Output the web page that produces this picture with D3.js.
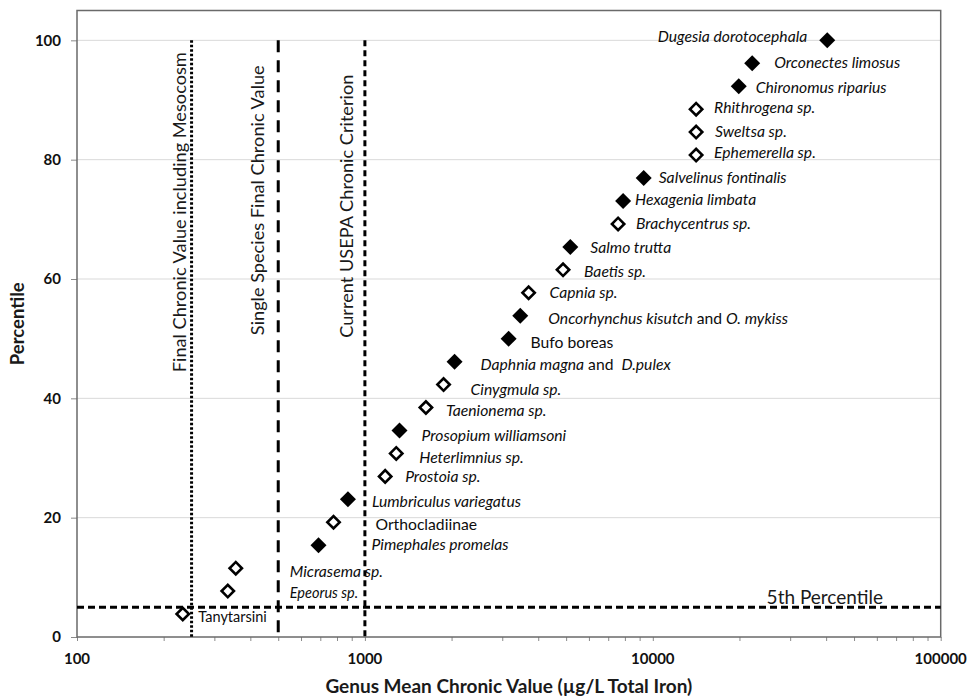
<!DOCTYPE html>
<html><head><meta charset="utf-8">
<script src="https://cdn.jsdelivr.net/npm/d3@7"></script>
<style>
body{margin:0;background:#fff}
text{font-family:Lato,"Open Sans",sans-serif;fill:#111}
</style>
</head><body>
<svg id="chart" width="967" height="697"></svg>
<script>
// ---------- DATA ----------
const species = [
  "Tanytarsini","Epeorus sp.","Micrasema sp.","Pimephales promelas","Orthocladiinae",
  "Lumbriculus variegatus","Prostoia sp.","Heterlimnius sp.","Prosopium williamsoni","Taenionema sp.",
  "Cinygmula sp.","Daphnia magna and  D.pulex","Bufo boreas","Oncorhynchus kisutch and O. mykiss","Capnia sp.",
  "Baetis sp.","Salmo trutta","Brachycentrus sp.","Hexagenia limbata","Salvelinus fontinalis",
  "Ephemerella sp.","Sweltsa sp.","Rhithrogena sp.","Chironomus riparius","Orconectes limosus",
  "Dugesia dorotocephala"
];
const genusMeanChronicValue = [
  233, 334, 356, 690, 778,
  873, 1176, 1285, 1319, 1629,
  1876, 2049, 3156, 3465, 3704,
  4878, 5171, 7576, 7886, 9298,
  14140, 14140, 14140, 19890, 22140,
  40350
];
const percentile = [
  3.85, 7.69, 11.54, 15.38, 19.23,
  23.08, 26.92, 30.77, 34.62, 38.46,
  42.31, 46.15, 50.00, 53.85, 57.69,
  61.54, 65.38, 69.23, 73.08, 76.92,
  80.77, 84.62, 88.46, 92.31, 96.15,
  100.00
];
// true = filled diamond, false = open diamond
const filledMarker = [
  false,false,false,true,false,
  true,false,false,true,false,
  false,true,true,true,false,
  false,true,false,true,true,
  false,false,false,true,true,
  true
];
// label type: i = italic, n = normal, m = mixed (italic names joined by normal "and")
const labelType = [
  "n","i","i","i","n",
  "i","i","i","i","i",
  "i","m","n","m","i",
  "i","i","i","i","i",
  "i","i","i","i","i",
  "i"
];
const referenceValues = [250, 500, 1000];
const referenceLabels = [
  "Final Chronic Value including Mesocosm",
  "Single Species Final Chronic Value",
  "Current USEPA Chronic Criterion"
];
const fifthPercentile = 5;
const fifthLabel = "5th Percentile";
const xTickValues = [100, 1000, 10000, 100000];
const yTickValues = [0, 20, 40, 60, 80, 100];
const xTitle = "Genus Mean Chronic Value (\u00b5g/L Total Iron)";
const yTitle = "Percentile";

// ---------- LAYOUT (pixels, not data) ----------
const labelNudge = [
  [15.6,8],[62,7],[54,9],[53,5],[42,8],
  [24,8],[20,6],[23,10],[22,11],[20,8],
  [27,10],[26,8],[22,9],[28,8],[21,5],
  [21,7],[20,6],[18,5],[12,4],[15,5],
  [18,3],[19,5],[18,4],[17,7],[22,5],
  [-20,2]
];
const labelSize = [14.5,14.5,15.7,15.7,15.7, 15.7,15.7,15.7,15.7,15.7, 15.7,15.7,15.7,15.7,15.7, 15.7,15.7,15.7,15.7,15.7, 15.7,15.7,15.7,15.7,15.7, 15.7];
const refStyle = [
  {dash:"2.5,2", width:3, labelDx:-5.5, labelAt:71.2},
  {dash:"12,8", width:3, labelDx:-14, labelAt:73.2},
  {dash:"6,4", width:3, labelDx:-12, labelAt:72.2}
];

const svg = d3.select("#chart");
const pLeft = 77, pRight = 940.7, pTop = 10.5, pBottom = 637;

const x = d3.scaleLog().domain([100, 100000]).range([pLeft, pRight]);
const y = d3.scaleLinear().domain([0, 105]).range([pBottom, pTop]);

// gridlines
svg.append("g").selectAll("line")
  .data(yTickValues.filter(d => d > 0)).join("line")
  .attr("x1", pLeft).attr("x2", pRight)
  .attr("y1", d => y(d)).attr("y2", d => y(d))
  .attr("stroke", "#d9d9d9").attr("stroke-width", 1);

// x axis (ticks, outward)
const xAxis = d3.axisBottom(x)
  .tickValues(d3.range(2, 5).flatMap(p => d3.range(1, 10).map(m => m * Math.pow(10, p))).concat([100000]))
  .tickSize(4).tickFormat("");
const gx = svg.append("g").attr("transform", `translate(0,${pBottom})`).call(xAxis);
gx.select(".domain").remove();
gx.selectAll(".tick line").attr("stroke", "#8a8a8a").attr("stroke-width", 1);

svg.append("g").selectAll("text").data(xTickValues).join("text")
  .attr("x", d => x(d)).attr("y", 664)
  .attr("text-anchor", "middle")
  .style("font-weight", "bold").style("font-size", "15px")
  .text(d => d3.format("d")(d));

// y axis
const yAxis = d3.axisLeft(y).tickValues(yTickValues).tickSize(6).tickFormat("");
const gy = svg.append("g").attr("transform", `translate(${pLeft},0)`).call(yAxis);
gy.select(".domain").remove();
gy.selectAll(".tick line").attr("stroke", "#8a8a8a");

svg.append("g").selectAll("text").data(yTickValues).join("text")
  .attr("x", 61).attr("y", d => y(d))
  .attr("dy", "0.35em")
  .attr("text-anchor", "end")
  .style("font-weight", "bold").style("font-size", "15px")
  .text(d => d);

// frame
svg.append("rect")
  .attr("x", pLeft).attr("y", pTop)
  .attr("width", pRight - pLeft).attr("height", pBottom - pTop)
  .attr("fill", "none").attr("stroke", "#6a6a6a").attr("stroke-width", 1.5);

// reference vertical lines
referenceValues.forEach((v, i) => {
  const s = refStyle[i];
  svg.append("line")
    .attr("x1", x(v)).attr("x2", x(v))
    .attr("y1", y(100)).attr("y2", y(0))
    .attr("stroke", "#000").attr("stroke-width", s.width)
    .attr("stroke-dasharray", s.dash);
  svg.append("text")
    .attr("transform", `translate(${x(v) + s.labelDx},${y(s.labelAt)}) rotate(-90)`)
    .attr("text-anchor", "middle")
    .style("font-size", "18.2px").style("fill", "#1a1a1a")
    .text(referenceLabels[i]);
});

// 5th percentile line
svg.append("line")
  .attr("x1", pLeft).attr("x2", pRight)
  .attr("y1", y(fifthPercentile)).attr("y2", y(fifthPercentile))
  .attr("stroke", "#000").attr("stroke-width", 3)
  .attr("stroke-dasharray", "7,4");
svg.append("text")
  .attr("x", 883).attr("y", y(fifthPercentile) - 3.5)
  .attr("text-anchor", "end")
  .style("font-size", "19px").style("fill", "#1a1a1a")
  .text(fifthLabel);

// points
const pts = species.map((s, i) => ({
  name: s, v: genusMeanChronicValue[i], p: percentile[i],
  filled: filledMarker[i], type: labelType[i], nudge: labelNudge[i], size: labelSize[i]
}));

const filledSym = d3.symbol().type(d3.symbolSquare).size(128);
const openSym = d3.symbol().type(d3.symbolSquare).size(76);

svg.append("g").selectAll("path").data(pts).join("path")
  .attr("transform", d => `translate(${x(d.v)},${y(d.p)}) rotate(45)`)
  .attr("d", d => d.filled ? filledSym() : openSym())
  .attr("fill", d => d.filled ? "#000" : "#fff")
  .attr("stroke", "#000")
  .attr("stroke-width", d => d.filled ? 0 : 2.6);

// labels
const lab = svg.append("g").selectAll("text").data(pts).join("text")
  .attr("x", d => x(d.v) + d.nudge[0])
  .attr("y", d => y(d.p) + d.nudge[1])
  .attr("text-anchor", d => d.nudge[0] < 0 ? "end" : "start")
  .style("font-size", d => d.size + "px")
  .style("fill", "#0d0d0d")
  .style("white-space", "pre");

lab.each(function(d) {
  const t = d3.select(this);
  if (d.type === "m") {
    const parts = d.name.split(/(\s+and\s+)/);
    parts.forEach(part => {
      const isAnd = part.trim() === "and";
      t.append("tspan")
        .style("font-style", isAnd ? "normal" : "italic")
        .text(part);
    });
  } else {
    t.style("font-style", d.type === "i" ? "italic" : "normal").text(d.name);
  }
});

// axis titles
svg.append("text")
  .attr("x", (pLeft + pRight) / 2).attr("y", 693)
  .attr("text-anchor", "middle")
  .style("font-weight", "bold").style("font-size", "19px").style("fill", "#1a1a1a")
  .text(xTitle);

svg.append("text")
  .attr("transform", `translate(24,${(pTop + pBottom) / 2}) rotate(-90)`)
  .attr("text-anchor", "middle")
  .style("font-weight", "bold").style("font-size", "18.5px").style("fill", "#1a1a1a")
  .text(yTitle);
</script>
</body></html>
